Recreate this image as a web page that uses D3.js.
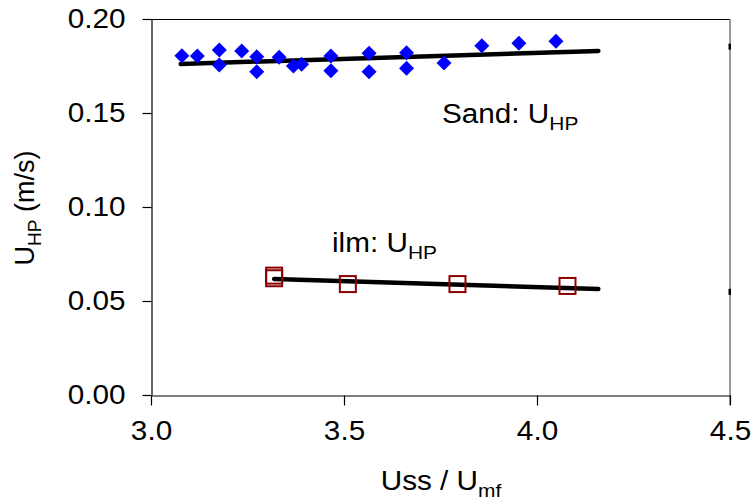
<!DOCTYPE html>
<html>
<head>
<meta charset="utf-8">
<script src="https://cdn.jsdelivr.net/npm/d3@7"></script>
<style>
  html, body { margin: 0; padding: 0; background: #fff; }
  svg { display: block; }
  text { font-family: "Liberation Sans", Arial, sans-serif; fill: #000; }
</style>
</head>
<body>
<svg id="chart" width="751" height="501"></svg>
<script>
// ---- data ----
const xTicks = [3.0, 3.5, 4.0, 4.5];
const yTicks = [0.00, 0.05, 0.10, 0.15, 0.20];

const sandX = [3.080, 3.120, 3.177, 3.177, 3.235, 3.274, 3.274, 3.332, 3.369, 3.390,
               3.466, 3.466, 3.565, 3.565, 3.662, 3.662, 3.759, 3.857, 3.953, 4.049];
const sandY = [0.1805, 0.1803, 0.1835, 0.1755, 0.1830, 0.1799, 0.1720, 0.1796, 0.1750, 0.1759,
               0.1803, 0.1725, 0.1818, 0.1720, 0.1821, 0.1738, 0.1766, 0.1858, 0.1871, 0.1881];

const ilmX = [3.319, 3.319, 3.510, 3.794, 4.079];
const ilmY = [0.0635, 0.0621, 0.0590, 0.0590, 0.0580];

const sandTrendX = [3.077, 4.159];
const sandTrendY = [0.1761, 0.1830];
const ilmTrendX = [3.319, 4.159];
const ilmTrendY = [0.0617, 0.0564];

const edgeMarkX = [4.5, 4.5];
const edgeMarkY = [0.1853, 0.0549];

// ---- layout ----
const svg = d3.select("#chart");
const pL = 151, pR = 730, pT = 19, pB = 395;
const x = d3.scaleLinear().domain([3.0, 4.5]).range([pL, pR]);
const y = d3.scaleLinear().domain([0, 0.2]).range([pB, pT]);
const STRETCH = 1.1;

// frame: top black line, right grey line
svg.append("line").attr("x1", pL).attr("x2", pR).attr("y1", pT + 0.5).attr("y2", pT + 0.5)
  .attr("stroke", "#000").attr("stroke-width", 1.2);
svg.append("line").attr("x1", pR).attr("x2", pR).attr("y1", pT).attr("y2", pB + 10)
  .attr("stroke", "#7a7a7a").attr("stroke-width", 1.5);

// axes
const yAxis = d3.axisLeft(y).tickValues(yTicks).tickFormat(d3.format(".2f"))
  .tickSize(9).tickSizeOuter(0).tickPadding(17);
const gy = svg.append("g").attr("transform", `translate(${pL + 0.5},0)`).call(yAxis);

const xAxis = d3.axisBottom(x).tickValues(xTicks).tickFormat(d3.format(".1f"))
  .tickSize(10).tickSizeOuter(0).tickPadding(15);
const gx = svg.append("g").attr("transform", `translate(0,${pB + 0.5})`).call(xAxis);

[gx, gy].forEach(g => {
  g.selectAll("path.domain").attr("stroke", "#000").attr("stroke-width", 1.2);
  g.selectAll(".tick line").attr("stroke", "#000").attr("stroke-width", 1.2);
  g.selectAll(".tick text").attr("font-size", 27)
    .style("font-family", '"Liberation Sans", Arial, sans-serif').attr("fill", "#000");
});

// trend lines
const line = d3.line().x(d => x(d[0])).y(d => y(d[1]));
svg.append("path").datum(sandTrendX.map((v, i) => [v, sandTrendY[i]]))
  .attr("d", line).attr("fill", "none").attr("stroke", "#000")
  .attr("stroke-width", 4.5).attr("stroke-linecap", "round");
svg.append("path").datum(ilmTrendX.map((v, i) => [v, ilmTrendY[i]]))
  .attr("d", line).attr("fill", "none").attr("stroke", "#000")
  .attr("stroke-width", 4.5).attr("stroke-linecap", "round");

// edge marks
svg.selectAll("rect.edge").data(edgeMarkX.map((v, i) => [v, edgeMarkY[i]])).enter()
  .append("rect").attr("class", "edge")
  .attr("x", d => x(d[0]) - 1.5).attr("y", d => y(d[1]) - 3)
  .attr("width", 2.5).attr("height", 6).attr("fill", "#000");

// sand diamonds
const dr = 7.5;
svg.selectAll("path.sand").data(sandX.map((v, i) => [v, sandY[i]])).enter()
  .append("path").attr("class", "sand")
  .attr("d", d => {
    const cx = x(d[0]), cy = y(d[1]);
    return `M${cx},${cy - dr}L${cx + dr},${cy}L${cx},${cy + dr}L${cx - dr},${cy}Z`;
  })
  .attr("fill", "#0000ff");

// ilm squares
const sh = 8;
svg.selectAll("rect.ilm").data(ilmX.map((v, i) => [v, ilmY[i]])).enter()
  .append("rect").attr("class", "ilm")
  .attr("x", d => x(d[0]) - sh).attr("y", d => y(d[1]) - sh)
  .attr("width", sh * 2).attr("height", sh * 2)
  .attr("fill", "none").attr("stroke", "#8b0000").attr("stroke-width", 2);

// annotations
function subLabel(g, main, sub, subSize) {
  g.append("tspan").text(main);
  g.append("tspan").attr("font-size", subSize).attr("dy", 7).text(sub);
}
const t1 = svg.append("text").attr("class", "wide").attr("x", 442).attr("y", 123).attr("font-size", 27);
subLabel(t1, "Sand: U", "HP", 19);
const t2 = svg.append("text").attr("class", "wide").attr("x", 332).attr("y", 252).attr("font-size", 27);
subLabel(t2, "ilm: U", "HP", 19);

// axis titles
const tx = svg.append("text").attr("class", "wide").attr("x", 441).attr("y", 490)
  .attr("text-anchor", "middle").attr("font-size", 27);
subLabel(tx, "Uss / U", "mf", 19);

const ty = svg.append("text").attr("transform", "translate(34,208) rotate(-90)")
  .attr("text-anchor", "middle").attr("font-size", 27);
ty.append("tspan").text("U");
ty.append("tspan").attr("font-size", 19).attr("dy", 7).text("HP");
ty.append("tspan").attr("dy", -7).text(" (m/s)");

// slightly wider glyphs for horizontal texts, as in the reference
function widen(node) {
  const len = node.getComputedTextLength();
  d3.select(node).attr("textLength", len * STRETCH).attr("lengthAdjust", "spacingAndGlyphs");
}
svg.selectAll(".tick text").each(function () { widen(this); });
svg.selectAll("text.wide tspan").each(function () { widen(this); });
</script>
</body>
</html>
